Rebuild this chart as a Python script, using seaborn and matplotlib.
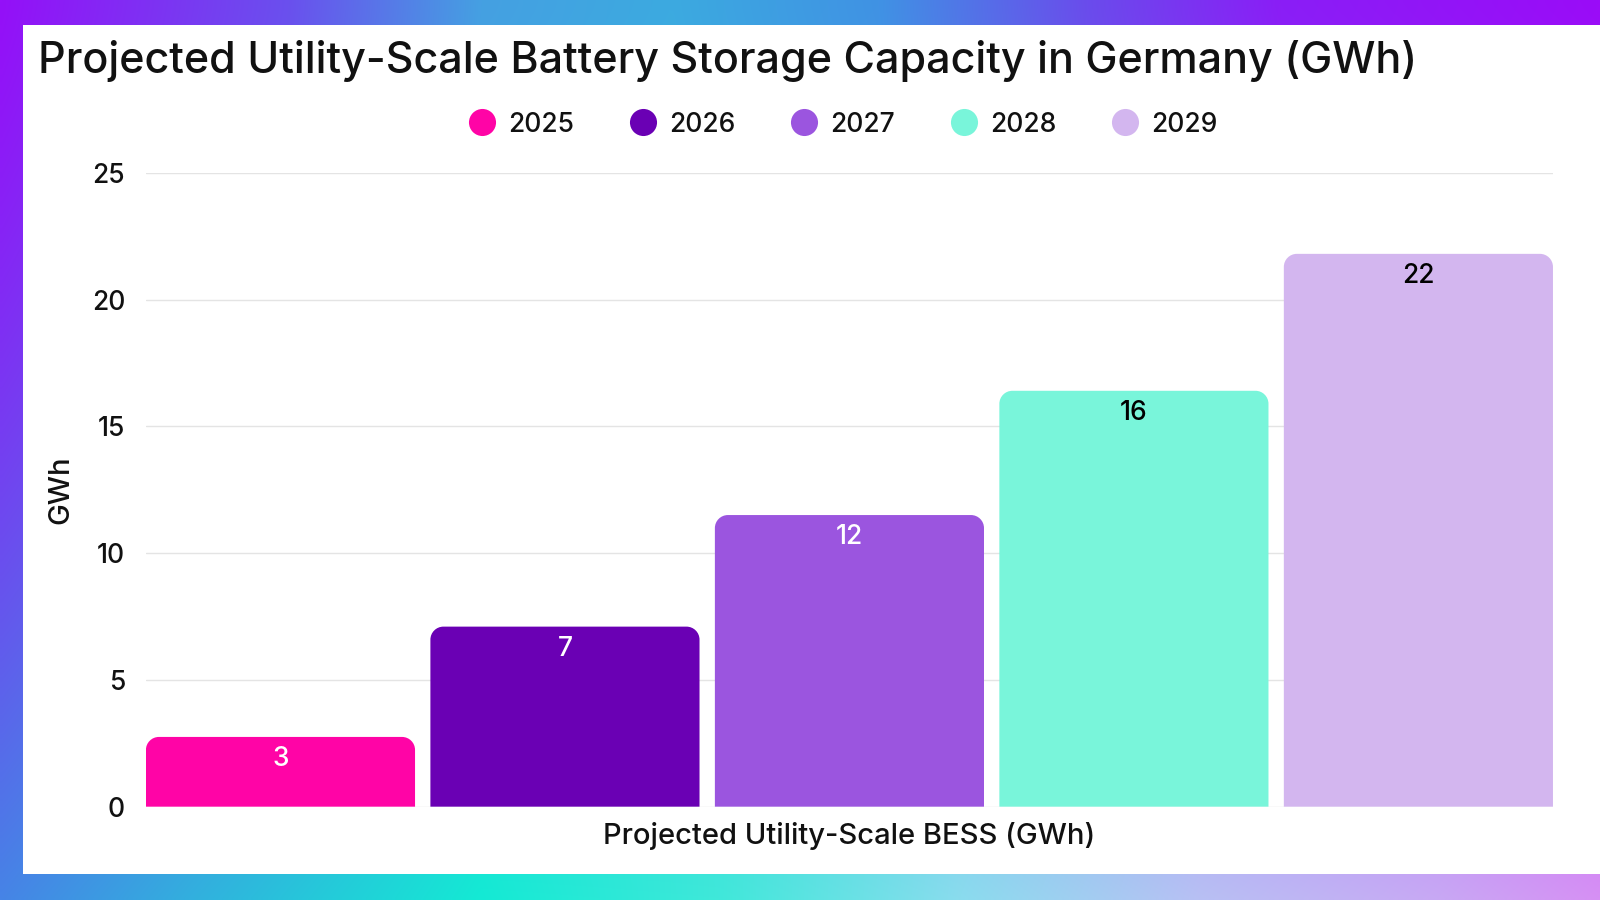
import numpy as np
import pandas as pd
import matplotlib
matplotlib.use("Agg")
import matplotlib.pyplot as plt
import seaborn as sns
from matplotlib.path import Path
from matplotlib.patches import PathPatch, Rectangle
from matplotlib.lines import Line2D
from matplotlib.colors import to_rgb

# ---- data ----
title = "Projected Utility-Scale Battery Storage Capacity in Germany (GWh)"
category = "Projected Utility-Scale BESS (GWh)"
years = ["2025", "2026", "2027", "2028", "2029"]
values = [2.75, 7.1, 11.5, 16.4, 21.8]
value_labels = ["3", "7", "12", "16", "22"]
bar_colors = ["#FF04A6", "#6A00B4", "#9B55DF", "#79F5DA", "#D3B6EF"]
label_colors = ["white", "white", "white", "black", "black"]
y_ticks = [0, 5, 10, 15, 20, 25]
y_label = "GWh"

sns.set_theme(style="white")
FONT = ["Inter", "DejaVu Sans"]
plt.rcParams["font.family"] = FONT

fig = plt.figure(figsize=(16, 9), dpi=100)

# ---- gradient frame ----
bg = fig.add_axes([0, 0, 1, 1])
W, H = 400, 225
xs = np.linspace(0, 1, W)
top_stops = [(0.0, "#9410F8"), (0.18, "#6A50EE"), (0.3, "#45A0E2"), (0.42, "#3CAAE0"),
             (0.55, "#4092E4"), (0.68, "#6A4CEC"), (0.8, "#8A1EF6"), (1.0, "#9A0CF8")]
bot_stops = [(0.0, "#4684E6"), (0.12, "#32B0DE"), (0.3, "#14EAD4"), (0.45, "#40E8DA"),
             (0.6, "#8ADCEE"), (0.75, "#B8C0F4"), (0.9, "#C8A8F4"), (1.0, "#D690F4")]

def row(stops):
    px = [s[0] for s in stops]
    cols = np.array([to_rgb(s[1]) for s in stops])
    return np.stack([np.interp(xs, px, cols[:, k]) for k in range(3)], axis=-1)

top_row, bot_row = row(top_stops), row(bot_stops)
t = np.linspace(0, 1, H)[:, None, None] ** 1.3
img = top_row[None] * (1 - t) + bot_row[None] * t
bg.imshow(img, extent=[0, 1, 0, 1], aspect="auto", interpolation="bilinear")
bg.add_patch(Rectangle((0.0142, 0.029), 1.0, 0.9717 - 0.029, facecolor="white",
                       edgecolor="none", transform=bg.transAxes))
bg.set_xlim(0, 1); bg.set_ylim(0, 1)
bg.axis("off")

# ---- main axes ----
ax = fig.add_axes([0.0912, 0.1037, 0.9706 - 0.0912, 0.8081 - 0.1037])
ax.set_zorder(2)
ax.patch.set_alpha(0)

df = pd.DataFrame({"category": [category] * len(years), "year": years, "value": values})
sns.barplot(data=df, x="category", y="value", hue="year", hue_order=years,
            palette=bar_colors, saturation=1, width=1.0, gap=0.054,
            dodge=True, legend=False, ax=ax, err_kws={"linewidth": 0})

ax.set_ylim(0, 25)
ax.set_yticks(y_ticks)
ax.yaxis.grid(True, color="#e4e4e4", linewidth=1.0)
ax.set_axisbelow(True)
for s in ax.spines.values():
    s.set_visible(False)

bars = sorted(ax.patches, key=lambda p: p.get_x())
x_lo = min(p.get_x() for p in bars)
x_hi = max(p.get_x() + p.get_width() for p in bars)
ax.set_xlim(x_lo, x_hi)

fig.canvas.draw()
bbox = ax.get_window_extent()
r_px = 13
rx = r_px * (x_hi - x_lo) / bbox.width
ry = r_px * 25 / bbox.height
k = 0.5523
for p, lab, lc in zip(bars, value_labels, label_colors):
    x0, y0 = p.get_x(), p.get_y()
    w, h = p.get_width(), p.get_height()
    x1, y1 = x0 + w, y0 + h
    fc = p.get_facecolor()
    p.set_visible(False)
    verts = [(x0, y0), (x1, y0), (x1, y1 - ry),
             (x1, y1 - ry + k * ry), (x1 - rx + k * rx, y1), (x1 - rx, y1),
             (x0 + rx, y1),
             (x0 + rx - k * rx, y1), (x0, y1 - ry + k * ry), (x0, y1 - ry),
             (x0, y0)]
    codes = [Path.MOVETO, Path.LINETO, Path.LINETO,
             Path.CURVE4, Path.CURVE4, Path.CURVE4,
             Path.LINETO,
             Path.CURVE4, Path.CURVE4, Path.CURVE4,
             Path.CLOSEPOLY]
    ax.add_patch(PathPatch(Path(verts, codes), facecolor=fc, edgecolor="none", zorder=3))
    ax.annotate(lab, xy=(x0 + w / 2, y1), xytext=(0, -9), textcoords="offset pixels",
                ha="center", va="top", fontsize=19, fontweight="medium", color=lc, zorder=4)

ax.tick_params(axis="y", length=0, pad=15, labelsize=19, labelcolor="#111111")
ax.tick_params(axis="x", length=0, pad=11, labelsize=21, labelcolor="#111111")
for tl in ax.get_xticklabels() + ax.get_yticklabels():
    tl.set_fontweight("medium")
ax.set_xlabel("")
ax.set_ylabel(y_label, fontsize=21, fontweight="medium", color="#111111")
ax.yaxis.set_label_coords(-0.0604, 0.5)
ax.yaxis.label.set_va("center")

# ---- legend ----
handles = [Line2D([], [], linestyle="none", marker="o", markersize=19.5,
                  markerfacecolor=c, markeredgecolor="none") for c in bar_colors]
leg = ax.legend(handles, years, loc="center", bbox_to_anchor=(0.4956, 1.076), ncol=5,
                frameon=False, fontsize=19, handlelength=1.0, handletextpad=0.5,
                columnspacing=2.1, labelcolor="#111111")
for tx in leg.get_texts():
    tx.set_fontweight("medium")

# ---- title ----
fig.text(0.0236, 0.919, title, fontsize=31, fontweight="medium", color="#111111",
         ha="left", va="baseline")

fig.savefig("out.png", dpi=100)
